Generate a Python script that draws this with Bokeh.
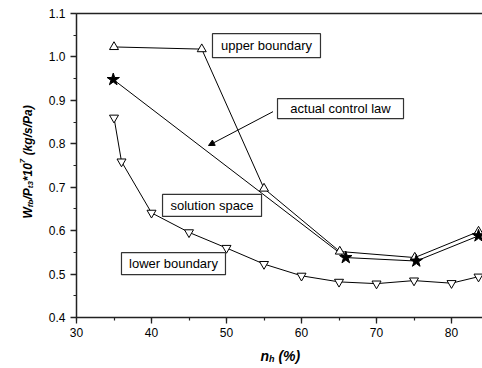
from math import pi

from bokeh.embed import file_html
from bokeh.resources import INLINE
from bokeh.plotting import figure
from bokeh.models import (Label, Arrow, NormalHead, SingleIntervalTicker,
                          NumeralTickFormatter, LinearAxis, FixedTicker)
from bokeh.core.properties import value

# ---- data -------------------------------------------------------------
upper_x = [35.0, 46.7, 55.0, 65.1, 75.1, 83.6]
upper_y = [1.023, 1.018, 0.697, 0.552, 0.538, 0.598]

law_x = [34.9, 65.9, 75.3, 83.6]
law_y = [0.948, 0.538, 0.530, 0.588]

lower_x = [35.0, 36.0, 40.0, 45.0, 50.0, 55.0, 60.0, 65.0, 70.0, 75.0, 80.0, 83.6]
lower_y = [0.860, 0.759, 0.641, 0.596, 0.560, 0.523, 0.496, 0.482, 0.478, 0.485, 0.479, 0.494]

# boxed annotations: text, centre (data), box size (px)
notes = [
    ("upper boundary", 55.33, 1.026, 108, 24),
    ("actual control law", 65.2, 0.881, 126, 20),
    ("solution space", 48.07, 0.658, 99, 22),
    ("lower boundary", 42.93, 0.524, 104, 22),
]

X_LO, X_HI = 30.0, 84.13
Y_LO, Y_HI = 0.4, 1.1

FONT = "Liberation Sans"
INK = "#222222"

W, H = 482, 368
LEFT, BOTTOM, TOP = 76, 51, 13
px_x = (X_HI - X_LO) / (W - LEFT)
px_y = (Y_HI - Y_LO) / (H - BOTTOM - TOP)

# the frame fills the canvas; axes sit at fixed data positions so that
# the axis titles can live inside the drawable area
p = figure(width=W, height=H,
           x_range=(X_LO - LEFT * px_x, X_HI),
           y_range=(Y_LO - BOTTOM * px_y, Y_HI + TOP * px_y),
           x_axis_location=None, y_axis_location=None,
           min_border=0, output_backend="svg", toolbar_location=None)
p.outline_line_color = None
p.xgrid.visible = False
p.ygrid.visible = False
p.background_fill_color = "white"
p.border_fill_color = "white"


def style_axis(ax):
    ax.axis_line_width = 1.5
    ax.axis_line_color = INK
    ax.major_tick_line_color = INK
    ax.major_tick_line_width = 1.3
    ax.minor_tick_line_color = INK
    ax.minor_tick_line_width = 1.2
    ax.major_tick_out = 6
    ax.major_tick_in = 0
    ax.minor_tick_out = 3
    ax.minor_tick_in = 0
    ax.major_label_text_font = FONT
    ax.major_label_text_font_size = "12px"
    ax.major_label_text_color = "black"


xaxis = LinearAxis(fixed_location=Y_LO, bounds=(X_LO, X_HI),
                   ticker=SingleIntervalTicker(interval=10, num_minor_ticks=2),
                   major_label_standoff=4)
yaxis = LinearAxis(fixed_location=X_LO, bounds=(Y_LO, Y_HI),
                   ticker=SingleIntervalTicker(interval=0.1, num_minor_ticks=2),
                   formatter=NumeralTickFormatter(format="0.0"),
                   major_label_standoff=5)
# plain frame line along the top edge
topline = LinearAxis(fixed_location=Y_HI, bounds=(X_LO, X_HI),
                     ticker=FixedTicker(ticks=[], minor_ticks=[]))
style_axis(xaxis)
style_axis(yaxis)
topline.axis_line_width = 1.5
topline.axis_line_color = INK
p.add_layout(xaxis, "below")
p.add_layout(yaxis, "left")
p.add_layout(topline, "above")

# ---- series -----------------------------------------------------------
p.line(upper_x, upper_y, line_color="black", line_width=1)
p.line(law_x, law_y, line_color="black", line_width=1)
p.line(lower_x, lower_y, line_color="black", line_width=1)

p.scatter(upper_x, upper_y, marker="triangle", size=9, fill_color="white",
          line_color="black", line_width=1)
p.scatter(lower_x, lower_y, marker="inverted_triangle", size=9, fill_color="white",
          line_color="black", line_width=1)
p.scatter(law_x, law_y, marker="star", size=13, fill_color="black",
          line_color="black", line_width=1)

# ---- annotations ------------------------------------------------------
nt, nx, ny, nw, nh = zip(*notes)
p.rect(x=list(nx), y=list(ny), width=list(nw), height=list(nh),
       width_units="screen", height_units="screen", fill_color="white",
       line_color="#333333", line_width=1.2)
p.text(x=list(nx), y=list(ny), text=list(nt), text_font=value(FONT),
       text_font_size="13px", text_align="center", text_baseline="middle",
       text_color="black")

p.add_layout(Arrow(end=NormalHead(size=6, fill_color="black", line_color="black"),
                   x_start=56.2, y_start=0.874, x_end=47.6, y_end=0.796,
                   line_color="black", line_width=1))

# ---- axis titles with sub/superscripts (screen px from bottom-left) ---
ADV = {"W": .944, "f": .333, "b": .611, "/": .278, "P": .667, "t": .333,
       "3": .556, "*": .389, "1": .556, "0": .556, "7": .556, " ": .278,
       "(": .333, "k": .556, "g": .611, "s": .556, "a": .556, ")": .333,
       "n": .611, "h": .611, "%": .889}


def run_width(s, size):
    return sum(ADV.get(c, .556) for c in s) * size


def title_runs(runs, along0, base, vertical):
    pos = along0
    for txt, size, shift in runs:
        # leading blanks are turned into an advance, since SVG drops them
        lead = len(txt) - len(txt.lstrip(" "))
        pos += run_width(" " * lead, size)
        txt = txt.lstrip(" ")
        if vertical:
            lab = Label(x=base + shift, y=pos, x_units="screen", y_units="screen",
                        angle=pi / 2, text=txt)
        else:
            lab = Label(x=pos, y=base - shift, x_units="screen", y_units="screen",
                        text=txt)
        lab.text_font = FONT
        lab.text_font_size = f"{size}px"
        lab.text_font_style = "bold italic"
        lab.text_align = "left"
        lab.text_baseline = "alphabetic"
        lab.text_color = "black"
        p.add_layout(lab)
        pos += run_width(txt, size)


y_title = [("W", 12, 0), ("fb", 8, 3), ("/P", 12, 0), ("t3", 8, 3),
           ("*10", 12, 0), ("7", 8, -5), (" (kg/s/Pa)", 12, 0)]
x_title = [("n", 14, 0), ("h", 9, 3), (" (%)", 14, 0)]

title_runs(y_title, H - 218, 27, True)
title_runs(x_title, 260, H - 355, False)

open("out.html", "w").write(file_html(p, INLINE))
